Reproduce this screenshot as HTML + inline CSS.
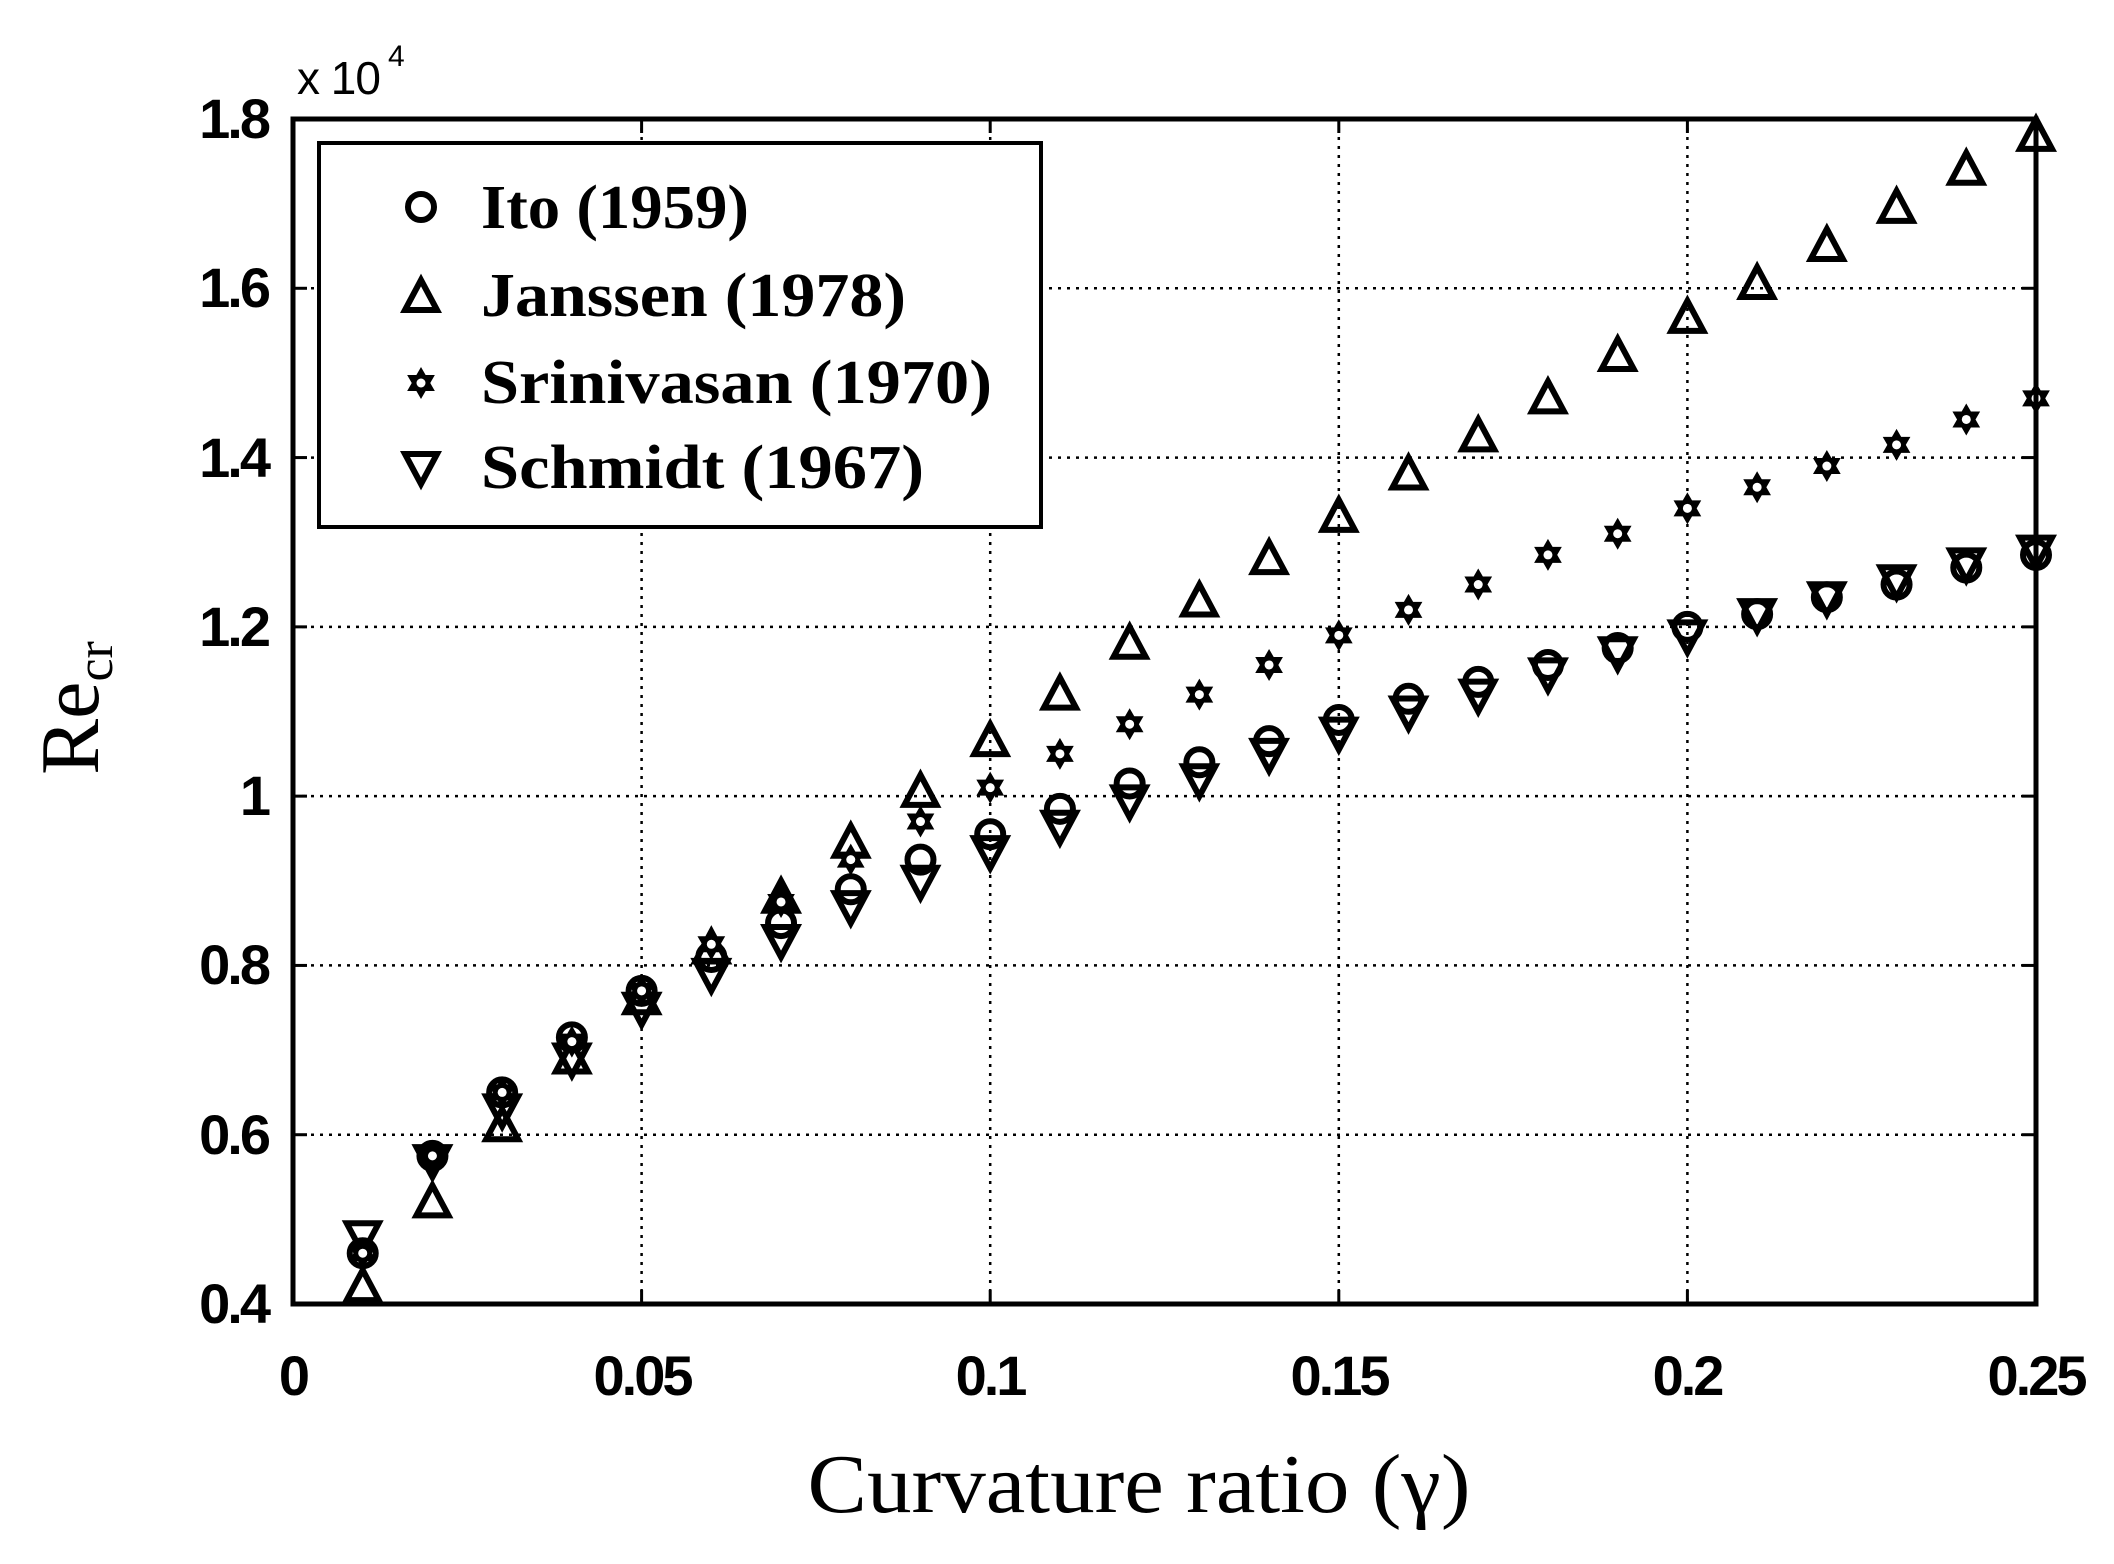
<!DOCTYPE html>
<html><head><meta charset="utf-8"><style>
html,body{margin:0;padding:0;background:#fff;}
svg{display:block;}
.tk{font-family:"Liberation Sans",Arial,sans-serif;font-weight:bold;font-size:56px;fill:#000;letter-spacing:-3px;}
.lg{font-family:"Liberation Serif",serif;font-weight:bold;font-size:62px;fill:#000;}
.lb{font-family:"Liberation Serif",serif;font-size:84px;fill:#000;}
</style></head><body>
<svg id="s" width="2114" height="1564" viewBox="0 0 2114 1564" xmlns="http://www.w3.org/2000/svg">
<rect width="2114" height="1564" fill="#fff"/>
<g id="grid" stroke="#000" stroke-width="2.5" stroke-dasharray="3,6"></g>
<g id="ticks" stroke="#000" stroke-width="3"></g>
<g id="data" fill="none" stroke="#000" stroke-width="6"></g>
<rect x="293" y="119" width="1743" height="1185" fill="none" stroke="#000" stroke-width="5"/>
<rect x="319" y="143" width="722" height="384" fill="#fff" stroke="#000" stroke-width="4"/>
<g id="leg" fill="none" stroke="#000" stroke-width="6"></g>
<text class="lg" x="481" y="228" textLength="268" lengthAdjust="spacingAndGlyphs">Ito (1959)</text>
<text class="lg" x="481" y="316" textLength="425" lengthAdjust="spacingAndGlyphs">Janssen (1978)</text>
<text class="lg" x="481" y="403" textLength="511" lengthAdjust="spacingAndGlyphs">Srinivasan (1970)</text>
<text class="lg" x="481" y="488" textLength="443" lengthAdjust="spacingAndGlyphs">Schmidt (1967)</text>
<g class="tk" text-anchor="end">
<text x="268" y="138">1.8</text><text x="268" y="307">1.6</text><text x="268" y="477">1.4</text>
<text x="268" y="646">1.2</text><text x="268" y="815">1</text><text x="268" y="984">0.8</text>
<text x="268" y="1154">0.6</text><text x="268" y="1323">0.4</text>
</g>
<g class="tk" text-anchor="middle">
<text x="293" y="1395">0</text><text x="642" y="1395">0.05</text><text x="990" y="1395">0.1</text>
<text x="1339" y="1395">0.15</text><text x="1687" y="1395">0.2</text><text x="2036" y="1395">0.25</text>
</g>
<text class="tk" x="297" y="94" style="font-weight:normal;font-size:46px;letter-spacing:-1px">x 10</text>
<text class="tk" x="388" y="66" style="font-weight:normal;font-size:30px">4</text>
<text class="lb" transform="translate(98,708) rotate(-90)" text-anchor="middle">Re<tspan font-size="52" dy="14">cr</tspan></text>
<text class="lb" x="1139" y="1512" text-anchor="middle" textLength="663" lengthAdjust="spacingAndGlyphs">Curvature ratio (γ)</text>
</svg>
<script>
const NS="http://www.w3.org/2000/svg";
const X=g=>293+g/0.25*1743, Y=v=>1304-(v-0.4)/1.4*1185;
function el(p,t,a){const e=document.createElementNS(NS,t);for(const k in a)e.setAttribute(k,a[k]);p.appendChild(e);return e;}
const grid=document.getElementById('grid'),ticks=document.getElementById('ticks');
[0.6,0.8,1.0,1.2,1.4,1.6].forEach(v=>el(grid,'line',{x1:293,x2:2036,y1:Y(v),y2:Y(v)}));
[0.05,0.1,0.15,0.2].forEach(g=>el(grid,'line',{x1:X(g),x2:X(g),y1:119,y2:1304}));
[0.4,0.6,0.8,1.0,1.2,1.4,1.6,1.8].forEach(v=>{el(ticks,'line',{x1:293,x2:307,y1:Y(v),y2:Y(v)});el(ticks,'line',{x1:2036,x2:2022,y1:Y(v),y2:Y(v)});});
[0,0.05,0.1,0.15,0.2,0.25].forEach(g=>{el(ticks,'line',{x1:X(g),x2:X(g),y1:1304,y2:1290});el(ticks,'line',{x1:X(g),x2:X(g),y1:119,y2:133});});
function circ(p,x,y){el(p,'circle',{cx:x,cy:y,r:13});}
function up(p,x,y){el(p,'polygon',{points:`${x},${y-17} ${x+16},${y+13} ${x-16},${y+13}`});}
function dn(p,x,y){el(p,'polygon',{points:`${x},${y+17} ${x+16},${y-13} ${x-16},${y-13}`});}
function star(p,x,y){const r=13;let a=`${x},${y-r} ${x+r*0.866},${y+r/2} ${x-r*0.866},${y+r/2}`,b=`${x},${y+r} ${x+r*0.866},${y-r/2} ${x-r*0.866},${y-r/2}`;
el(p,'polygon',{points:a,fill:'#000','stroke-width':3});el(p,'polygon',{points:b,fill:'#000','stroke-width':3});el(p,'circle',{cx:x,cy:y,r:4.5,fill:'#fff',stroke:'none'});}
const gs=[];for(let i=1;i<=25;i++)gs.push(i/100);
const jan=[0.42,0.52,0.61,0.69,0.76,0.82,0.88,0.945,1.005,1.065,1.12,1.18,1.23,1.28,1.33,1.38,1.425,1.47,1.52,1.565,1.605,1.65,1.695,1.74,1.78];
const sri=[0.46,0.575,0.65,0.71,0.77,0.825,0.875,0.925,0.97,1.01,1.05,1.085,1.12,1.155,1.19,1.22,1.25,1.285,1.31,1.34,1.365,1.39,1.415,1.445,1.47];
const ito=[0.46,0.575,0.65,0.715,0.77,0.81,0.85,0.89,0.925,0.955,0.985,1.015,1.04,1.065,1.09,1.115,1.135,1.155,1.175,1.2,1.215,1.235,1.25,1.27,1.285];
const sch=[0.48,0.57,0.63,0.69,0.75,0.79,0.83,0.87,0.90,0.935,0.965,0.995,1.02,1.05,1.075,1.10,1.12,1.145,1.17,1.19,1.215,1.235,1.255,1.275,1.29];
const d=document.getElementById('data');
gs.forEach((g,i)=>{const x=X(g);circ(d,x,Y(ito[i]));dn(d,x,Y(sch[i]));up(d,x,Y(jan[i]));star(d,x,Y(sri[i]));});
const L=document.getElementById('leg');
circ(L,421,207);up(L,421,297);star(L,421,383);dn(L,421,467);
</script>
</body></html>
